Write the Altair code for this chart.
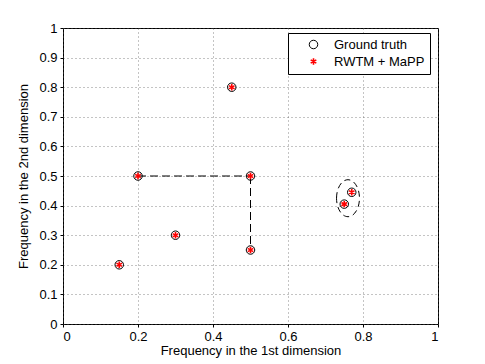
import altair as alt
import pandas as pd

# Data
gt_x = [0.15, 0.2, 0.3, 0.45, 0.5, 0.5, 0.75, 0.77]
gt_y = [0.2, 0.5, 0.3, 0.8, 0.5, 0.25, 0.405, 0.445]
est_x = [0.15, 0.2, 0.3, 0.45, 0.5, 0.5, 0.75, 0.77]
est_y = [0.2, 0.5, 0.3, 0.8, 0.5, 0.25, 0.405, 0.445]
series_names = ["Ground truth", "RWTM + MaPP"]

seg_x = [0.2, 0.5]
seg_y = [0.5, 0.5]
seg_x2 = [0.5, 0.5]
seg_y2 = [0.5, 0.25]

ell_x = [0.76]
ell_y = [0.425]

x_ticks = [0, 0.2, 0.4, 0.6, 0.8, 1]
y_ticks = [0, 0.1, 0.2, 0.3, 0.4, 0.5, 0.6, 0.7, 0.8, 0.9, 1]

pts = pd.DataFrame(
    {"x": gt_x + est_x, "y": gt_y + est_y,
     "series": [series_names[0]] * len(gt_x) + [series_names[1]] * len(est_x)}
)
segs = pd.DataFrame({"x": seg_x, "y": seg_y, "x2": seg_x2, "y2": seg_y2})
ell = pd.DataFrame({"x": ell_x, "y": ell_y})

ASTERISK = "M0,-1L0,1M-0.87,-0.5L0.87,0.5M-0.87,0.5L0.87,-0.5"
ELLIPSE = "M-0.62,0A0.62,1 0 1,1 0.62,0A0.62,1 0 1,1 -0.62,0Z"

xscale = alt.Scale(domain=[0, 1], nice=False, zero=False)
yscale = alt.Scale(domain=[0, 1], nice=False, zero=False)
xaxis = alt.Axis(values=x_ticks, title="Frequency in the 1st dimension", format="~g",
                 labelOverlap=False, labelPadding=3, titlePadding=1)
yaxis = alt.Axis(values=y_ticks, title="Frequency in the 2nd dimension", format="~g",
                 labelOverlap=False, labelPadding=3, titlePadding=8)

X = alt.X("x:Q", scale=xscale, axis=xaxis)
Y = alt.Y("y:Q", scale=yscale, axis=yaxis)

lines = alt.Chart(segs).mark_rule(color="black", strokeDash=[8, 4], strokeWidth=1).encode(
    x=X, y=Y, x2="x2:Q", y2="y2:Q",
)

ellipse = alt.Chart(ell).mark_point(
    shape=ELLIPSE, size=1369, filled=False, color="black", strokeDash=[6, 4], strokeWidth=1, opacity=1
).encode(x=X, y=Y)

legend = alt.Legend(title=None, orient="none", legendX=225, legendY=5,
                    strokeColor="black", fillColor="white", padding=5,
                    labelFontSize=13, labelFont="Liberation Sans", labelColor="black",
                    rowPadding=3, symbolOffset=14, labelOffset=14, cornerRadius=0)

points = alt.Chart(pts).mark_point(filled=False, opacity=1).encode(
    x=X, y=Y,
    color=alt.Color("series:N", scale=alt.Scale(domain=series_names, range=["black", "red"]), legend=legend),
    shape=alt.Shape("series:N", scale=alt.Scale(domain=series_names, range=["circle", ASTERISK]), legend=legend),
    size=alt.Size("series:N", scale=alt.Scale(domain=series_names, range=[72, 42]), legend=legend),
    strokeWidth=alt.StrokeWidth("series:N", scale=alt.Scale(domain=series_names, range=[1, 1.6]), legend=legend),
)

chart = alt.layer(lines, ellipse, points).properties(
    width=375, height=296,
    background="white",
    autosize=alt.AutoSizeParams(type="none"),
    padding={"left": 55, "top": 20, "right": 10, "bottom": 40},
).configure_view(stroke="black", strokeWidth=1).configure_axis(
    grid=True, gridDash=[1, 3], gridColor="#555555", gridOpacity=0.7,
    tickSize=3, tickColor="black", domain=False,
    labelFontSize=13, titleFontSize=13, titleFontWeight="normal",
    labelColor="black", titleColor="black",
    labelFont="Liberation Sans", titleFont="Liberation Sans",
)

chart.save("out.html", embed_options={"renderer": "svg", "actions": False})
